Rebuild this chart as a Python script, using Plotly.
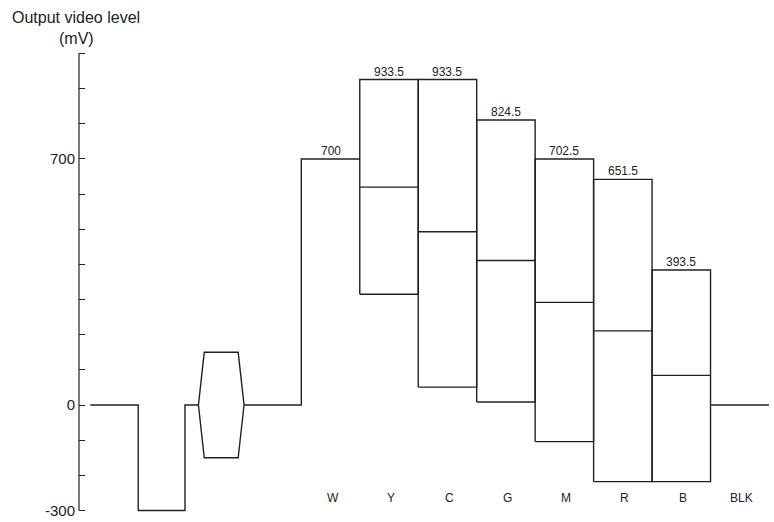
import plotly.graph_objects as go

# ---- data (mV levels, time in colour-bar widths relative to the start of W) ----
bar_names = ["W", "Y", "C", "G", "M", "R", "B", "BLK"]
bar_edges = [0, 1, 2, 3, 4, 5, 6, 7, 8]

white_level = 700
box_names = ["Y", "C", "G", "M", "R", "B"]
box_top = [926, 926, 811, 700, 642, 384]
box_mid = [620, 493, 411, 292, 211, 84.5]
box_bot = [315, 51, 8.5, -104, -218, -218]
top_labels = ["700", "933.5", "933.5", "824.5", "702.5", "651.5", "393.5"]

blank_level = 0
sync_level = -300
burst_amp = 150
t_line_start = -3.61
t_sync_start = -2.79
t_sync_end = -1.99
t_burst = [-1.76, -1.66, -1.08, -0.98]

y_tickvals = list(range(-300, 1001, 100))
y_ticktext = ["-300" if v == -300 else "0" if v == 0 else "700" if v == 700 else "" for v in y_tickvals]

LINE = "#222222"
FONT = "Arial"

# ---- waveform path ----
xs, ys = [], []
# blanking, sync, back porch
xs += [t_line_start, t_sync_start, t_sync_start, t_sync_end, t_sync_end, t_burst[0]]
ys += [blank_level, blank_level, sync_level, sync_level, blank_level, blank_level]
# burst (upper half) then back along lower half
xs += [t_burst[1], t_burst[2], t_burst[3], t_burst[2], t_burst[1], t_burst[0]]
ys += [burst_amp, burst_amp, blank_level, -burst_amp, -burst_amp, blank_level]
xs += [None]; ys += [None]
# from burst end to white bar
xs += [t_burst[3], bar_edges[0], bar_edges[0], bar_edges[1]]
ys += [blank_level, blank_level, white_level, white_level]
xs += [None]; ys += [None]
# chroma boxes
for i in range(len(box_names)):
    l = bar_edges[i + 1]
    r = bar_edges[i + 2]
    xs += [l, l, r, r, l, None, l, r, None]
    ys += [box_bot[i], box_top[i], box_top[i], box_bot[i], box_bot[i], None, box_mid[i], box_mid[i], None]
# black bar
xs += [bar_edges[7], bar_edges[8]]
ys += [blank_level, blank_level]

fig = go.Figure()
fig.add_trace(go.Scatter(x=xs, y=ys, mode="lines",
                         line=dict(color=LINE, width=1.4),
                         hoverinfo="skip", showlegend=False))

# value labels above each bar
tops = [white_level] + box_top
for i, (lab, v) in enumerate(zip(top_labels, tops)):
    fig.add_annotation(x=(bar_edges[i] + bar_edges[i + 1]) / 2, y=v, text=lab,
                       showarrow=False, yanchor="middle", yshift=8,
                       font=dict(family=FONT, size=12, color=LINE))

# bar names along the bottom
for i, name in enumerate(bar_names):
    fig.add_annotation(x=(bar_edges[i] + bar_edges[i + 1]) / 2, xref="x",
                       y=0.0345, yref="paper", text=name, showarrow=False,
                       xshift=2, yanchor="middle",
                       font=dict(family=FONT, size=12, color=LINE))

# axis title
fig.add_annotation(x=-0.0036, xref="paper", y=1.071, yref="paper",
                   text="Output video level", showarrow=False,
                   xanchor="center", yanchor="middle",
                   font=dict(family=FONT, size=16, color=LINE))
fig.add_annotation(x=-0.0043, xref="paper", y=1.024, yref="paper",
                   text="(mV)", showarrow=False,
                   xanchor="center", yanchor="middle",
                   font=dict(family=FONT, size=16, color=LINE))

# y axis line (from -300 to 1000 only)
fig.add_shape(type="line", xref="paper", x0=0, x1=0, yref="y",
              y0=y_tickvals[0], y1=y_tickvals[-1],
              line=dict(color=LINE, width=1.2))

fig.update_layout(
    width=774, height=522, autosize=False,
    margin=dict(l=79, r=0, t=50, b=8),
    plot_bgcolor="white", paper_bgcolor="white",
    xaxis=dict(range=[-3.803, 8.086], visible=False),
    yaxis=dict(range=[-310, 1010], showgrid=False, zeroline=False,
               showline=False, ticks="inside", ticklen=6, tickwidth=1.2,
               tickcolor=LINE, tickvals=y_tickvals, ticktext=y_ticktext,
               ticklabelstandoff=3,
               tickfont=dict(family=FONT, size=15, color=LINE)),
)

fig.write_html("out.html")
